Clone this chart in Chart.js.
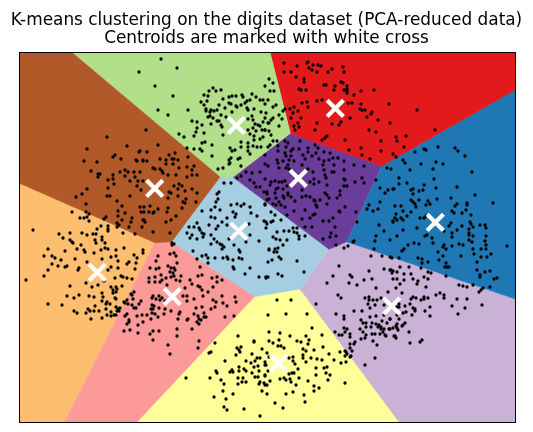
<!DOCTYPE html>
<html><head><meta charset="utf-8">
<style>html,body{margin:0;padding:0;background:#fff}canvas{display:block}</style>
<script src="https://cdn.jsdelivr.net/npm/chart.js@4"></script>
</head><body><canvas id="c" width="533" height="432" style="width:533px;height:432px"></canvas>
<script>
const titleLines = ["K-means clustering on the digits dataset (PCA-reduced data)", "Centroids are marked with white cross"];
const clusterColors = {brown:"#b15928",green:"#b2df8a",red:"#e31a1c",blue:"#1f78b4",purple:"#6a3d9a",lightblue:"#a6cee3",lilac:"#cab2d6",yellow:"#ffff99",pink:"#fb9a99",orange:"#fdbf6f"};
const xRange = [0.5, 496.5];
const yRange = [-0.5, 369.5];

const regionBrown = [[0.5,369.5],[53,369.5],[201,245],[152.7,180.3],[136,179.3],[0.5,238.7]];
const regionGreen = [[53,369.5],[251,369.5],[271.3,288.7],[214,245],[201,245]];
const regionRed = [[251,369.5],[496.5,369.5],[496.5,332.3],[362.7,256],[271.3,288.7]];
const regionBlue = [[362.7,256],[496.5,332.3],[496.5,123],[327.7,180.3]];
const regionPurple = [[271.3,288.7],[362.7,256],[327.7,180.3],[310,172.7],[214,245]];
const regionLightblue = [[201,245],[214,245],[310,172.7],[281,133],[236,125.5],[152.7,180.3]];
const regionLilac = [[327.7,180.3],[496.5,123],[496.5,-0.5],[380.5,-0.5],[281,133],[310,172.7]];
const regionYellow = [[236,125.5],[281,133],[380.5,-0.5],[118,-0.5]];
const regionPink = [[152.7,180.3],[236,125.5],[118,-0.5],[45.5,-0.5],[136,179.3]];
const regionOrange = [[0.5,238.7],[136,179.3],[45.5,-0.5],[0.5,-0.5]];

const centroids = [[217.3,296.7],[316.3,313.7],[279.3,243.7],[416.3,199.7],[135.7,233.7],[219.7,191],[78.3,149.7],[153.3,125.3],[259.3,58.7],[372.7,116]];

const digitsBrown = [[88,285],[68,273],[108,276],[120,270],[96,267],[94,265],[102,263],[65,261],[78,260],[117,262],[118,261],[124,262],[72,251],[101,250],[106,252],[109,250],[115,250],[127,292],[139,277],[121,271],[128,270],[150,267],[156,269],[169,265],[124,261],[128,261],[141,263],[147,262],[153,263],[155,263],[159,262],[154,258],[147,258],[160,254],[134,254],[136,253],[141,253],[143,251],[168,255],[175,256],[173,252],[199,253],[204,254],[210,258],[121,250],[79,248],[81,248],[79,245],[94,247],[106,246],[116,245],[111,241],[119,241],[94,243],[89,242],[95,238],[89,234],[118,236],[124,241],[122,232],[68,233],[63,228],[57,225],[88,226],[91,226],[111,226],[98,221],[67,218],[103,216],[121,215],[122,210],[125,210],[99,211],[99,206],[106,209],[113,204],[112,200],[125,202],[103,202],[87,205],[85,203],[98,199],[100,197],[110,195],[116,188],[144,249],[149,247],[157,247],[168,245],[173,247],[178,247],[155,236],[160,238],[163,236],[150,230],[152,229],[159,233],[166,231],[173,233],[178,229],[149,224],[159,226],[167,223],[164,220],[166,219],[177,220],[125,215],[131,216],[139,213],[149,214],[163,214],[148,210],[135,210],[130,210],[134,209],[124,202],[126,200],[152,202],[147,200],[157,206],[123,195],[134,190],[151,189],[153,179],[155,178]];

const digitsGreen = [[120,350],[142,363],[158,354],[136,336],[154,326],[194,334],[190,331],[197,331],[202,332],[185,327],[189,326],[188,321],[182,320],[185,317],[139,312],[169,312],[149,307],[187,313],[187,311],[192,312],[200,317],[204,323],[210,325],[213,326],[217,326],[223,327],[224,325],[233,328],[237,325],[241,322],[244,322],[249,322],[231,322],[228,321],[226,319],[210,319],[212,318],[217,316],[218,315],[222,317],[206,314],[198,312],[195,311],[191,310],[213,310],[228,314],[229,312],[235,313],[242,310],[247,309],[191,306],[194,304],[202,307],[207,305],[189,305],[173,301],[178,300],[183,297],[178,294],[198,301],[200,301],[192,298],[202,297],[203,295],[233,306],[234,302],[229,303],[236,298],[239,297],[241,296],[246,304],[244,300],[249,299],[234,294],[237,291],[243,292],[246,292],[160,288],[165,285],[175,286],[177,290],[185,289],[204,287],[229,292],[231,288],[235,286],[241,283],[244,285],[235,282],[183,279],[186,280],[193,277],[229,279],[229,275],[222,280],[222,275],[211,274],[234,276],[238,275],[242,275],[181,273],[168,274],[175,273],[183,271],[213,271],[216,272],[229,271],[231,268],[193,266],[210,262],[212,264],[219,263],[221,264],[211,259],[250,343],[254,339],[246,336],[251,331],[255,331],[246,318],[254,315],[257,317],[260,307],[264,311],[263,303],[254,304],[252,302],[250,299],[260,296],[246,292],[250,291],[252,287],[254,281],[258,281],[251,277],[249,275]];

const digitsRed = [[265,359],[278,356],[289,360],[288,359],[290,354],[294,357],[299,357],[302,356],[293,352],[298,350],[309,350],[313,353],[324,355],[325,350],[265,350],[272,350],[277,345],[285,343],[285,340],[305,337],[307,337],[322,340],[324,339],[316,336],[280,333],[282,332],[287,332],[315,332],[325,332],[328,336],[328,333],[328,331],[328,329],[342,331],[355,332],[335,327],[298,321],[303,322],[288,320],[283,319],[289,315],[275,315],[266,313],[271,313],[279,311],[274,309],[329,319],[333,319],[342,318],[370,318],[341,313],[343,312],[346,312],[353,310],[352,308],[348,305],[359,302],[331,304],[282,304],[272,304],[298,299],[313,298],[320,297],[322,300],[279,299],[275,296],[280,295],[276,292],[296,292],[350,292],[357,290],[308,286],[306,284],[303,282],[326,282],[362,281],[342,274],[330,272],[362,271],[374,268],[343,267],[351,263],[398,312],[371,299],[416,292],[377,285],[387,286],[378,281],[385,275],[377,265]];

const digitsBlue = [[396,270],[405,273],[407,272],[419,275],[436,274],[439,271],[446,266],[384,262],[386,259],[402,258],[417,260],[424,258],[414,253],[391,252],[372,253],[453,250],[368,254],[350,217],[348,213],[354,211],[361,220],[359,213],[338,200],[360,197],[374,200],[365,191],[357,186],[356,181],[371,182],[335,181],[334,180],[355,173],[357,242],[361,234],[366,229],[369,232],[374,233],[380,244],[415,243],[380,238],[388,239],[405,237],[375,233],[394,233],[392,232],[404,232],[400,231],[417,234],[438,235],[394,228],[456,227],[418,223],[392,222],[394,220],[400,222],[432,224],[409,221],[411,218],[407,217],[396,218],[474,219],[448,219],[448,217],[438,218],[436,216],[376,216],[382,216],[384,211],[392,210],[397,215],[377,208],[388,206],[447,212],[433,211],[435,209],[443,209],[452,207],[376,204],[374,201],[378,202],[382,204],[384,202],[407,206],[405,204],[401,204],[451,200],[452,198],[461,197],[466,197],[467,194],[454,195],[443,196],[432,199],[430,196],[425,191],[398,194],[384,192],[450,193],[450,189],[450,187],[454,186],[438,192],[433,189],[433,185],[378,186],[406,186],[408,187],[413,184],[414,179],[395,179],[400,178],[389,177],[385,173],[383,171],[425,177],[424,175],[427,173],[433,176],[440,178],[444,177],[450,182],[453,180],[466,181],[467,186],[467,177],[467,173],[454,173],[488,176],[462,173],[419,170],[424,166],[442,166],[420,162],[455,168],[462,165],[468,165],[472,168],[458,160],[399,164],[403,163],[403,159],[409,160],[427,159],[426,155],[428,155],[430,155],[458,152],[466,150],[471,151],[461,147],[461,145],[475,143],[478,144]];

const digitsPurple = [[222,256],[227,250],[246,267],[266,281],[269,279],[281,281],[259,276],[267,275],[272,271],[259,271],[266,269],[274,273],[280,273],[289,274],[289,270],[296,277],[299,274],[297,269],[305,270],[311,269],[267,266],[272,266],[284,267],[293,266],[305,261],[310,262],[314,264],[319,264],[258,262],[264,261],[270,262],[275,261],[286,263],[300,263],[259,259],[269,257],[283,257],[304,257],[315,257],[325,261],[335,257],[345,256],[246,258],[249,256],[260,254],[267,254],[270,253],[289,253],[294,250],[305,252],[315,250],[325,252],[218,244],[222,246],[231,242],[233,249],[241,250],[237,235],[241,235],[246,243],[245,230],[248,230],[235,239],[252,240],[251,237],[256,241],[260,240],[263,240],[266,241],[268,236],[259,234],[257,233],[264,233],[256,229],[269,229],[248,228],[264,226],[269,227],[257,224],[265,224],[250,223],[248,222],[272,225],[276,221],[254,218],[260,220],[246,218],[257,217],[262,217],[266,215],[275,211],[268,207],[286,212],[283,225],[283,232],[295,243],[291,240],[295,238],[300,240],[306,247],[307,244],[313,250],[325,243],[326,242],[336,240],[343,244],[345,239],[325,236],[328,236],[308,237],[287,226],[291,225],[295,222],[296,221],[301,222],[297,217],[306,229],[308,227],[310,224],[321,231],[321,227],[318,224],[326,215],[320,211],[321,210],[337,210],[298,215],[308,218],[294,207],[296,208],[283,203],[291,204],[304,201],[310,201],[314,204],[293,195],[286,195],[316,195],[312,189],[304,183],[311,185],[317,186]];

const digitsLightblue = [[205,239],[212,239],[200,230],[198,228],[199,223],[197,220],[196,215],[212,217],[218,218],[222,216],[225,218],[231,215],[183,211],[192,212],[201,212],[214,210],[217,208],[216,205],[232,209],[238,206],[192,205],[203,200],[196,204],[208,204],[178,199],[190,197],[170,195],[175,195],[180,194],[181,192],[183,189],[185,188],[168,189],[173,187],[171,184],[184,185],[178,183],[197,193],[199,196],[208,197],[218,192],[230,198],[231,187],[245,201],[248,198],[247,194],[192,187],[192,178],[195,183],[198,180],[201,178],[203,177],[203,173],[205,175],[210,183],[215,177],[220,172],[221,170],[227,180],[240,181],[250,173],[174,171],[183,166],[187,167],[189,164],[178,163],[196,164],[204,164],[208,165],[209,163],[214,162],[220,164],[223,163],[214,155],[215,153],[189,159],[231,154],[226,148],[249,145],[240,145],[247,144],[246,217],[252,210],[256,207],[262,202],[247,200],[252,200],[254,201],[265,191],[270,191],[258,190],[274,194],[278,194],[275,190],[278,189],[280,186],[286,186],[254,185],[257,183],[261,182],[268,182],[280,183],[264,177],[259,174],[256,173],[250,172],[255,170],[258,170],[260,165],[262,163],[253,162],[249,160],[278,161],[285,150],[259,148],[263,146],[247,145]];

const digitsLilac = [[317,177],[325,174],[329,176],[352,166],[363,166],[373,164],[320,156],[350,151],[365,153],[372,152],[374,151],[314,146],[331,147],[333,145],[345,142],[353,143],[374,143],[308,139],[330,139],[338,137],[357,134],[369,130],[380,164],[371,165],[381,155],[390,155],[371,152],[373,149],[378,150],[385,148],[392,148],[402,154],[409,150],[412,149],[405,145],[394,143],[409,143],[378,143],[385,142],[399,141],[398,138],[427,146],[381,138],[407,135],[377,134],[440,137],[444,136],[448,135],[464,134],[471,135],[462,132],[454,137],[460,130],[383,129],[421,129],[297,118],[319,127],[322,124],[346,124],[350,125],[350,122],[354,122],[358,122],[362,124],[349,118],[356,117],[365,117],[351,114],[343,111],[335,111],[317,108],[325,106],[325,103],[357,106],[351,105],[365,107],[371,103],[363,101],[342,102],[344,99],[347,99],[353,99],[357,98],[368,99],[360,97],[362,95],[359,95],[347,95],[352,95],[341,93],[325,94],[328,93],[326,90],[316,90],[344,90],[362,93],[365,93],[370,93],[364,90],[353,88],[356,88],[361,88],[366,87],[347,87],[374,94],[320,87],[323,87],[331,88],[331,85],[342,83],[346,84],[367,86],[375,86],[354,81],[336,80],[335,78],[331,78],[358,77],[331,74],[333,71],[327,70],[328,68],[332,66],[356,64],[346,57],[394,125],[397,124],[392,123],[402,122],[405,125],[405,123],[409,124],[417,127],[425,127],[425,124],[438,123],[448,123],[391,118],[433,116],[411,115],[463,117],[446,114],[394,114],[396,113],[396,111],[406,111],[439,108],[411,106],[393,107],[386,116],[380,118],[380,115],[378,115],[387,110],[384,109],[378,107],[371,103],[380,103],[386,99],[384,97],[383,96],[378,98],[377,96],[378,94],[379,92],[371,93],[390,90],[376,86],[377,84],[403,82],[401,80],[391,79]];

const digitsYellow = [[219,86],[196,79],[235,81],[235,80],[218,74],[222,75],[220,72],[243,73],[192,70],[190,69],[217,67],[221,70],[233,68],[248,69],[238,64],[241,64],[250,65],[206,61],[227,61],[232,59],[236,61],[246,60],[235,55],[239,56],[220,55],[247,57],[213,52],[211,50],[214,50],[220,51],[225,53],[227,51],[197,51],[198,49],[233,49],[240,51],[249,51],[246,46],[236,45],[239,45],[219,44],[224,44],[167,44],[191,44],[202,42],[227,40],[223,40],[219,38],[205,38],[241,40],[240,38],[245,39],[248,37],[204,31],[243,31],[214,28],[248,28],[195,25],[207,23],[205,15],[208,12],[225,13],[241,6],[258,122],[272,122],[249,107],[267,108],[288,108],[293,94],[250,90],[261,89],[303,87],[271,86],[287,86],[260,82],[250,81],[254,79],[278,81],[282,80],[290,82],[289,78],[259,76],[262,76],[265,74],[284,73],[304,75],[295,72],[287,71],[310,68],[321,70],[326,71],[326,66],[331,65],[284,67],[284,64],[292,64],[298,63],[303,62],[315,62],[322,59],[327,60],[270,64],[274,65],[274,61],[287,60],[276,58],[297,54],[305,54],[308,55],[246,57],[279,53],[273,49],[270,48],[275,49],[297,47],[307,49],[311,47],[246,47],[261,43],[265,44],[267,42],[271,43],[272,40],[280,44],[289,41],[309,42],[251,41],[246,37],[277,37],[295,36],[300,34],[326,39],[274,30],[295,31],[267,28],[285,27],[256,19],[286,20],[264,14]];

const digitsPink = [[124,172],[124,169],[153,177],[155,169],[157,166],[151,168],[139,166],[137,161],[158,159],[149,156],[152,154],[155,154],[156,152],[140,154],[131,154],[137,153],[181,155],[151,150],[154,149],[155,146],[142,147],[136,145],[130,144],[147,144],[152,145],[157,142],[143,142],[141,140],[130,140],[136,140],[148,137],[162,146],[161,141],[179,146],[183,147],[193,144],[198,145],[203,142],[198,140],[194,135],[171,142],[173,138],[179,136],[181,135],[189,130],[166,134],[183,132],[108,122],[105,120],[106,119],[109,118],[113,127],[114,123],[113,117],[115,114],[117,114],[120,118],[122,121],[108,108],[106,106],[118,106],[123,107],[110,102],[110,100],[108,98],[124,100],[119,97],[105,91],[111,92],[119,89],[134,126],[140,126],[133,124],[137,123],[141,122],[143,124],[146,121],[164,126],[168,126],[168,121],[175,123],[184,126],[194,122],[197,120],[203,126],[204,119],[208,116],[216,125],[217,120],[133,117],[135,116],[132,113],[134,113],[140,114],[146,113],[177,114],[183,115],[192,113],[196,115],[152,111],[133,109],[128,107],[136,108],[139,105],[145,108],[161,110],[160,108],[175,108],[179,106],[185,109],[185,105],[187,105],[206,105],[215,106],[132,103],[159,103],[169,103],[168,102],[180,103],[182,102],[178,100],[180,98],[158,93],[173,93],[134,91],[140,91],[131,88],[158,86],[134,82],[180,81],[149,77],[179,74],[151,68]];

const digitsOrange = [[53,210],[67,210],[70,208],[61,204],[65,204],[68,205],[70,201],[14,192],[40,188],[51,189],[63,189],[68,187],[74,188],[77,188],[78,193],[82,196],[89,196],[89,193],[89,191],[98,195],[104,189],[44,184],[51,182],[53,180],[54,179],[76,182],[83,185],[83,182],[77,179],[86,179],[29,173],[46,171],[58,173],[65,172],[66,170],[62,177],[75,169],[82,172],[86,174],[89,173],[97,172],[105,174],[25,166],[33,166],[36,164],[42,162],[56,163],[83,163],[92,165],[97,166],[68,160],[99,161],[115,167],[118,164],[110,160],[108,158],[117,159],[33,158],[39,156],[46,155],[48,156],[60,154],[59,152],[29,152],[92,155],[89,152],[99,154],[116,153],[25,146],[7,142],[96,144],[102,146],[104,145],[108,144],[113,143],[67,139],[51,136],[73,135],[79,137],[85,141],[92,135],[97,135],[98,133],[94,132],[83,129],[94,129],[103,136],[115,130],[112,128],[97,130],[29,118],[43,117],[48,126],[55,124],[60,127],[70,126],[75,125],[84,125],[83,121],[88,120],[87,118],[91,118],[96,124],[97,123],[76,116],[87,113],[69,113],[71,111],[75,111],[80,111],[55,111],[58,109],[67,109],[72,103],[83,104],[88,107],[92,106],[95,107],[97,107],[92,110],[97,115],[99,113],[101,114],[98,111],[100,111]];

const toXY = list => list.map(([x, y]) => ({x, y}));
const regions = [
  [regionBrown, clusterColors.brown],[regionGreen, clusterColors.green],[regionRed, clusterColors.red],
  [regionBlue, clusterColors.blue],[regionPurple, clusterColors.purple],[regionLightblue, clusterColors.lightblue],
  [regionLilac, clusterColors.lilac],[regionYellow, clusterColors.yellow],[regionPink, clusterColors.pink],[regionOrange, clusterColors.orange]
];
const digitSets = [digitsBrown,digitsGreen,digitsRed,digitsBlue,digitsPurple,digitsLightblue,digitsLilac,digitsYellow,digitsPink,digitsOrange];

const frame = {
  id: "frame",
  afterDatasetsDraw(chart) {
    const {ctx, chartArea: a} = chart;
    ctx.save(); ctx.strokeStyle = "#000"; ctx.lineWidth = 1;
    ctx.strokeRect(a.left, a.top, a.right - a.left, a.bottom - a.top);
    ctx.restore();
  }
};
const blankAxis = { display: true, ticks: { display: false }, grid: { display: false }, border: { display: false } };

// Large centroid markers must not reserve extra layout room around the plot.
Chart.registry.getController("scatter").prototype.getMaxOverflow = () => 0;

new Chart(document.getElementById("c"), {
  type: "scatter",
  data: { datasets: [
    { data: toXY(centroids), pointStyle: "crossRot", pointRadius: 11.5, pointBorderWidth: 4.2, pointBorderColor: "#fff", pointBackgroundColor: "#fff", showLine: false, order: 0 },
    ...digitSets.map(s => ({ data: toXY(s), pointRadius: 1.65, pointBorderWidth: 0, pointBackgroundColor: "#000", showLine: false, order: 1 })),
    ...regions.map(([r, col]) => ({ data: toXY(r), showLine: true, fill: "shape", tension: 0, backgroundColor: col, borderColor: col, borderWidth: 0.6, pointRadius: 0, order: 2 }))
  ]},
  options: {
    responsive: false, maintainAspectRatio: false, animation: false, devicePixelRatio: 1,
    layout: { padding: 0 },
    plugins: {
      legend: { display: false }, tooltip: { enabled: false },
      title: { display: true, text: titleLines, color: "#000", font: { family: "DejaVu Sans", size: 16.9, weight: "normal", lineHeight: 1.065 }, padding: { top: 11.5, bottom: 5 } }
    },
    scales: {
      x: { ...blankAxis, type: "linear", min: xRange[0], max: xRange[1], afterFit(s) { s.height = 9.5; } },
      y: { ...blankAxis, type: "linear", min: yRange[0], max: yRange[1], afterFit(s) { s.width = 19.5; } },
      yRight: { ...blankAxis, type: "linear", axis: "y", position: "right", min: yRange[0], max: yRange[1], afterFit(s) { s.width = 17.5; } }
    }
  },
  plugins: [frame]
});
</script></body></html>
